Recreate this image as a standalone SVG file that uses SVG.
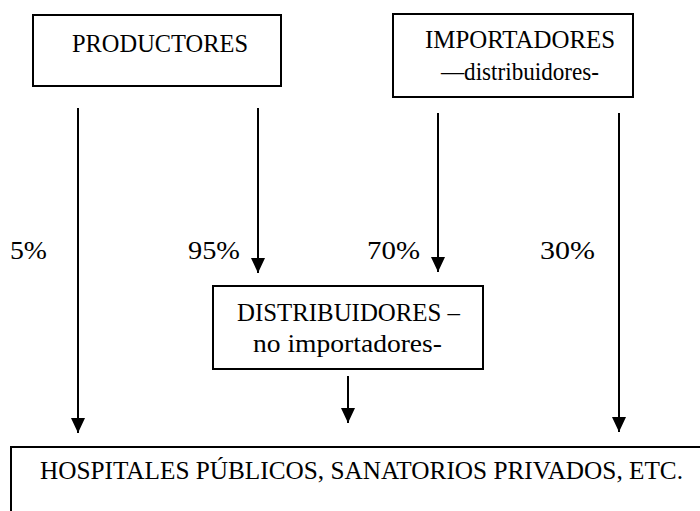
<svg xmlns="http://www.w3.org/2000/svg" width="700" height="511" viewBox="0 0 700 511">
<style>
.box{fill:none;stroke:#000;stroke-width:2}
.t{font-family:'Liberation Serif','DejaVu Serif',serif;font-size:26px;fill:#000}
.ln{stroke:#000;stroke-width:2;fill:none}
</style>
<defs>
<marker id="ah" viewBox="0 0 15 14" refX="15" refY="7" markerWidth="15" markerHeight="14" markerUnits="userSpaceOnUse" orient="auto">
<path d="M0,0 L15,7 L0,14 Z" fill="#000"/>
</marker>
</defs>
<rect width="700" height="511" fill="#fff"/>
<g id="productores">
<rect class="box" x="33" y="15" width="248" height="71"/>
<text class="t" x="72" y="52" textLength="176" lengthAdjust="spacingAndGlyphs">PRODUCTORES</text>
</g>
<g id="importadores">
<rect class="box" x="393" y="14" width="240" height="83"/>
<text class="t" x="425" y="48" textLength="190" lengthAdjust="spacingAndGlyphs">IMPORTADORES</text>
<text class="t" x="441" y="80" textLength="158" lengthAdjust="spacingAndGlyphs">—distribuidores-</text>
</g>
<g id="distribuidores">
<rect class="box" x="213" y="286" width="270" height="83"/>
<text class="t" x="237" y="321" textLength="223" lengthAdjust="spacingAndGlyphs">DISTRIBUIDORES –</text>
<text class="t" x="253" y="352" textLength="189" lengthAdjust="spacingAndGlyphs">no importadores-</text>
</g>
<g id="hospitales">
<path class="box" d="M11,511 V447 H700"/>
<text class="t" style="font-size:25px" x="40" y="479" textLength="643" lengthAdjust="spacingAndGlyphs">HOSPITALES PÚBLICOS, SANATORIOS PRIVADOS, ETC.</text>
</g>
<g id="connectors">
<line class="ln" x1="78" y1="108" x2="78" y2="433" marker-end="url(#ah)"/>
<line class="ln" x1="258" y1="108" x2="258" y2="273" marker-end="url(#ah)"/>
<line class="ln" x1="438" y1="113" x2="438" y2="272" marker-end="url(#ah)"/>
<line class="ln" x1="619" y1="113" x2="619" y2="432" marker-end="url(#ah)"/>
<line class="ln" x1="348" y1="376" x2="348" y2="423" marker-end="url(#ah)"/>
<text class="t" x="10" y="259" textLength="37" lengthAdjust="spacingAndGlyphs">5%</text>
<text class="t" x="188" y="259" textLength="52" lengthAdjust="spacingAndGlyphs">95%</text>
<text class="t" x="367" y="259" textLength="53" lengthAdjust="spacingAndGlyphs">70%</text>
<text class="t" x="540" y="259" textLength="55" lengthAdjust="spacingAndGlyphs">30%</text>
</g>
</svg>
